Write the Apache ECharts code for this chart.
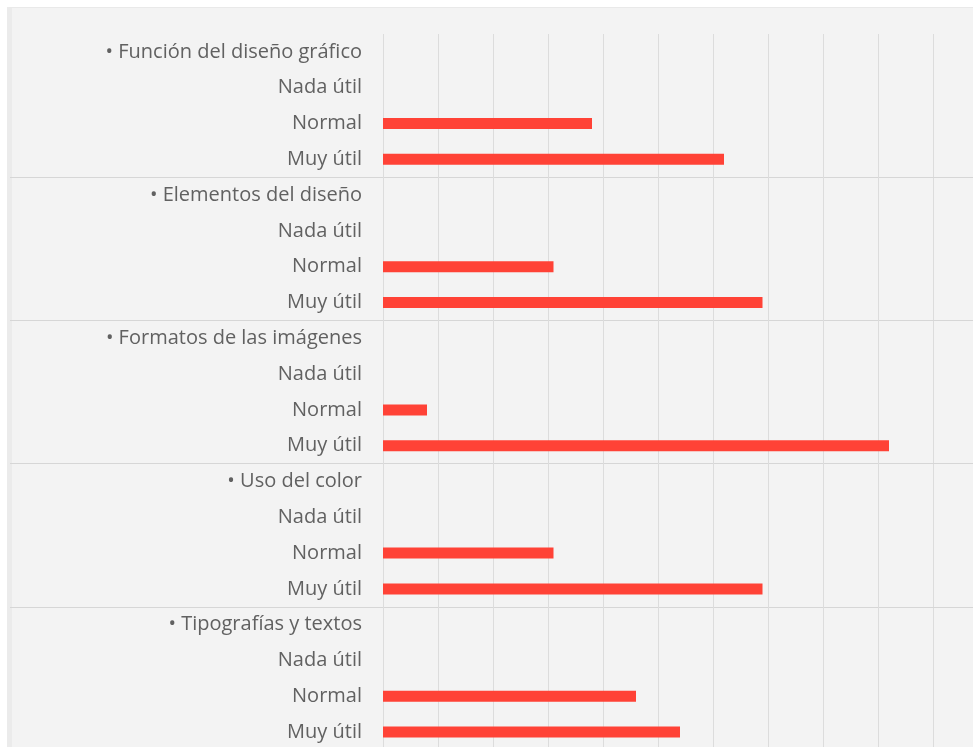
<!DOCTYPE html>
<html>
<head>
<meta charset="utf-8">
<script src="https://cdn.jsdelivr.net/npm/echarts@6/dist/echarts.min.js"></script>
<style>
  html, body { margin: 0; padding: 0; background: #ffffff; }
  #panel { position: absolute; left: 7px; top: 7px; width: 966px; height: 740px;
           background: #f3f3f3; border-top: 1px solid #e9e9e9; border-left: 5px solid #ebebeb; box-sizing: border-box; }
  #chart { position: absolute; left: 0; top: 0; width: 973px; height: 747px; }
</style>
</head>
<body>
<div id="panel"></div>
<div id="chart"></div>
<script>
const groups = ['Función del diseño gráfico', 'Elementos del diseño', 'Formatos de las imágenes', 'Uso del color', 'Tipografías y textos'];
const levels = ['Nada útil', 'Normal', 'Muy útil'];
const nadaUtil = [0, 0, 0, 0, 0];
const normal = [38, 31, 8, 31, 46];
const muyUtil = [62, 69, 92, 69, 54];

const categories = [];
const values = [];
groups.forEach((g, i) => {
  categories.push('• ' + g); values.push(null);
  categories.push(levels[0]); values.push(nadaUtil[i] || null);
  categories.push(levels[1]); values.push(normal[i]);
  categories.push(levels[2]); values.push(muyUtil[i]);
});

const sepInterval = (idx) => idx > 0 && idx % 4 === 0;
const sepStyle = { color: '#d6d6d6', width: 1 };

const chart = echarts.init(document.getElementById('chart'), null, { renderer: 'canvas' });
chart.setOption({
  backgroundColor: 'transparent',
  animation: false,
  grid: { left: 383, right: 40, top: 34, height: 716, outerBoundsMode: 'none' },
  xAxis: {
    type: 'value', min: 0, max: 100, interval: 10,
    axisLabel: { show: false }, axisLine: { show: false }, axisTick: { show: false },
    splitLine: { show: true, lineStyle: { color: '#dcdcdc', width: 1 } }
  },
  yAxis: [{
    type: 'category', inverse: true, data: categories, position: 'left',
    axisLine: { show: false },
    axisTick: { show: true, length: 373, interval: sepInterval, lineStyle: sepStyle },
    splitLine: { show: true, interval: sepInterval, lineStyle: sepStyle },
    axisLabel: { interval: 0, margin: 21, color: '#616161', fontSize: 20, fontFamily: 'Open Sans' }
  }, {
    type: 'category', inverse: true, data: categories, position: 'right',
    axisLine: { show: false },
    axisTick: { show: true, length: 40, interval: sepInterval, lineStyle: sepStyle },
    splitLine: { show: false },
    axisLabel: { show: false }
  }],
  series: [{
    type: 'bar', data: values, barWidth: 11,
    itemStyle: { color: '#ff4236' }
  }]
});
</script>
</body>
</html>
